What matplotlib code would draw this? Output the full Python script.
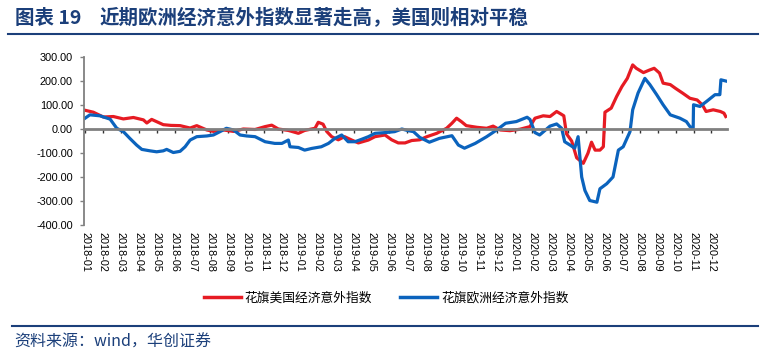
import matplotlib
matplotlib.use("Agg")
import matplotlib.pyplot as plt
from matplotlib.lines import Line2D

plt.rcParams['font.family'] = ['Liberation Sans', 'Noto Sans CJK SC', 'DejaVu Sans']

# month labels on the category axis
months = [f"{2018 + i // 12}-{i % 12 + 1:02d}" for i in range(36)]

# US index: time in months since 2018-01, value
us_t = [0.0, 0.46, 1.02, 1.58, 2.14, 2.70, 3.26, 3.45, 3.72, 4.37, 4.8, 5.31, 5.87, 6.24,
        6.8, 7.17, 7.73, 8.29, 8.84, 9.5, 10.06, 10.43, 10.8, 11.36, 11.92, 12.27, 12.85,
        13.03, 13.3, 13.5, 13.78, 14.15, 14.5, 14.9, 15.27, 15.83, 16.2, 16.76, 17.13, 17.5,
        17.88, 18.25, 18.7, 19.1, 19.65, 20.2, 20.5, 20.76, 21.04, 21.3, 21.9, 22.44, 22.8,
        23.2, 23.74, 24.3, 24.86, 25.14, 25.6, 25.98, 26.35, 26.6, 26.75, 26.9, 27.19, 27.47,
        27.84, 28.1, 28.3, 28.5, 28.77, 28.96, 29.05, 29.4, 29.7, 30.0, 30.3, 30.6, 30.8,
        31.2, 31.55, 31.8, 32.1, 32.3, 32.7, 33.0, 33.4, 33.8, 34.2, 34.5, 34.7, 35.1, 35.5,
        35.7, 35.8]
us_v = [78, 70, 50, 52, 42, 48, 38, 25, 40, 18, 15, 14, 4, 14,
        -4, -10, -4, -10, 0, -2, 10, 16, 0, -6, -18, -6, 3,
        28, 20, -10, -32, -45, -32, -46, -58, -46, -32, -25, -45, -58,
        -58, -48, -45, -32, -18, 3, 24, 45, 30, 14, 7, 3, 12,
        -4, -7, -1, 10, 45, 55, 52, 73, 62, 55, -20, -50, -120,
        -143, -101, -55, -88, -88, -74, 70, 87, 135, 177, 211, 267, 253,
        235, 246, 253, 233, 191, 185, 169, 149, 128, 121, 100, 73, 80, 73,
        66, 52]

# Euro index
eu_t = [0.0, 0.27, 0.83, 1.4, 1.77, 2.14, 2.5, 2.88, 3.17, 3.63, 4.0, 4.37, 4.56, 4.93,
        5.31, 5.59, 5.87, 6.24, 6.8, 7.17, 7.54, 7.9, 8.29, 8.66, 9.03, 9.5, 10.06, 10.6,
        11.0, 11.36, 11.45, 11.92, 12.27, 12.66, 13.2, 13.6, 13.96, 14.34, 14.7, 15.08,
        15.45, 15.83, 16.2, 16.76, 17.3, 17.7, 18.06, 18.35, 18.7, 19.24, 19.8, 20.5, 20.86,
        21.2, 21.8, 22.44, 23.0, 23.5, 24.1, 24.7, 24.86, 25.14, 25.4, 25.98, 26.35, 26.63,
        26.8, 27.1, 27.36, 27.55, 27.75, 27.93, 28.2, 28.6, 28.77, 29.15, 29.5, 29.8, 30.07,
        30.45, 30.6, 30.9, 31.28, 31.56, 31.94, 32.3, 32.7, 33.24, 33.6, 33.8, 33.98, 34.0,
        34.36, 34.73, 35.2, 35.47, 35.53, 35.8]
eu_v = [45, 59, 55, 41, 3, -11, -39, -67, -85, -91, -95, -91, -85, -98,
        -93, -74, -46, -32, -29, -25, -11, 3, -4, -25, -29, -32, -53, -60,
        -60, -46, -74, -77, -88, -81, -74, -60, -39, -25, -53, -53,
        -43, -32, -18, -15, -11, 0, -7, -11, -35, -55, -39, -28, -67,
        -80, -60, -32, -4, 24, 31, 49, 40, -15, -25, 12, 21, 3,
        -53, -67, -80, -32, -200, -256, -298, -305, -249, -228, -200, -88, -74,
        -11, 80, 150, 211, 185, 143, 101, 59, 45, 31, 10, 3, 101,
        94, 115, 143, 143, 205, 200]

navy = '#1B3F7A'
red = '#E61B23'
blue = '#0B63BD'
grey = '#808080'

fig = plt.figure(figsize=(7.66, 3.6), dpi=100)
ax = fig.add_axes([84 / 766, 1 - 225 / 360, 643 / 766, 168 / 360])

ax.plot(us_t, us_v, color=red, lw=2.3, solid_joinstyle='round')
ax.plot(eu_t, eu_v, color=blue, lw=2.3, solid_joinstyle='round')

ax.set_xlim(-0.06, 35.87)
ax.set_ylim(-400, 300)
ax.set_yticks(range(-400, 301, 100))
ax.set_yticklabels([f"{v:.2f}" for v in range(-400, 301, 100)], fontsize=7.8)

for s in ['top', 'right']:
    ax.spines[s].set_visible(False)
ax.spines['left'].set_color(grey)
ax.spines['left'].set_linewidth(1.3)
ax.spines['bottom'].set_position(('data', 0))
ax.spines['bottom'].set_color(grey)
ax.spines['bottom'].set_linewidth(2)
ax.set_xticks(range(36))
ax.tick_params(axis='x', direction='out', length=3, width=1, color='#333333',
               labelbottom=False)
ax.tick_params(axis='y', direction='out', length=3, width=1, color=grey, pad=5)

sec = ax.secondary_xaxis('bottom')
sec.set_xticks(range(36))
sec.set_xticklabels(months, rotation=270, fontsize=7.8)
sec.tick_params(length=0, pad=5)
sec.spines['bottom'].set_visible(False)

# title and rules
fig.text(15 / 766, 1 - 18 / 360, "图表 19", fontsize=14, fontweight='bold',
         color=navy, va='center', family=['Noto Sans CJK SC'])
fig.text(100 / 766, 1 - 18 / 360, "近期欧洲经济意外指数显著走高，美国则相对平稳", fontsize=14,
         fontweight='bold', color=navy, va='center', family=['Noto Sans CJK SC'])
fig.add_artist(Line2D([8 / 766, 758 / 766], [1 - 34 / 360, 1 - 34 / 360], color=navy, lw=1.5))
fig.add_artist(Line2D([12 / 766, 758 / 766], [1 - 326 / 360, 1 - 326 / 360], color=navy, lw=1.5))
fig.text(14 / 766, 1 - 342 / 360, "资料来源：wind，华创证券", fontsize=11.5, style='italic',
         color=navy, va='center', family=['Noto Sans CJK SC', 'DejaVu Serif'])

handles = [Line2D([], [], color=red, lw=2.5), Line2D([], [], color=blue, lw=2.5)]
fig.legend(handles, ["花旗美国经济意外指数", "花旗欧洲经济意外指数"], ncol=2, frameon=False,
           loc='center', bbox_to_anchor=(386 / 766, 1 - 298 / 360), fontsize=9.2,
           handlelength=2.9, handletextpad=0.3, columnspacing=2.2,
           prop={'family': ['Noto Sans CJK SC'], 'size': 9.2})

fig.savefig("out.png", dpi=100)
